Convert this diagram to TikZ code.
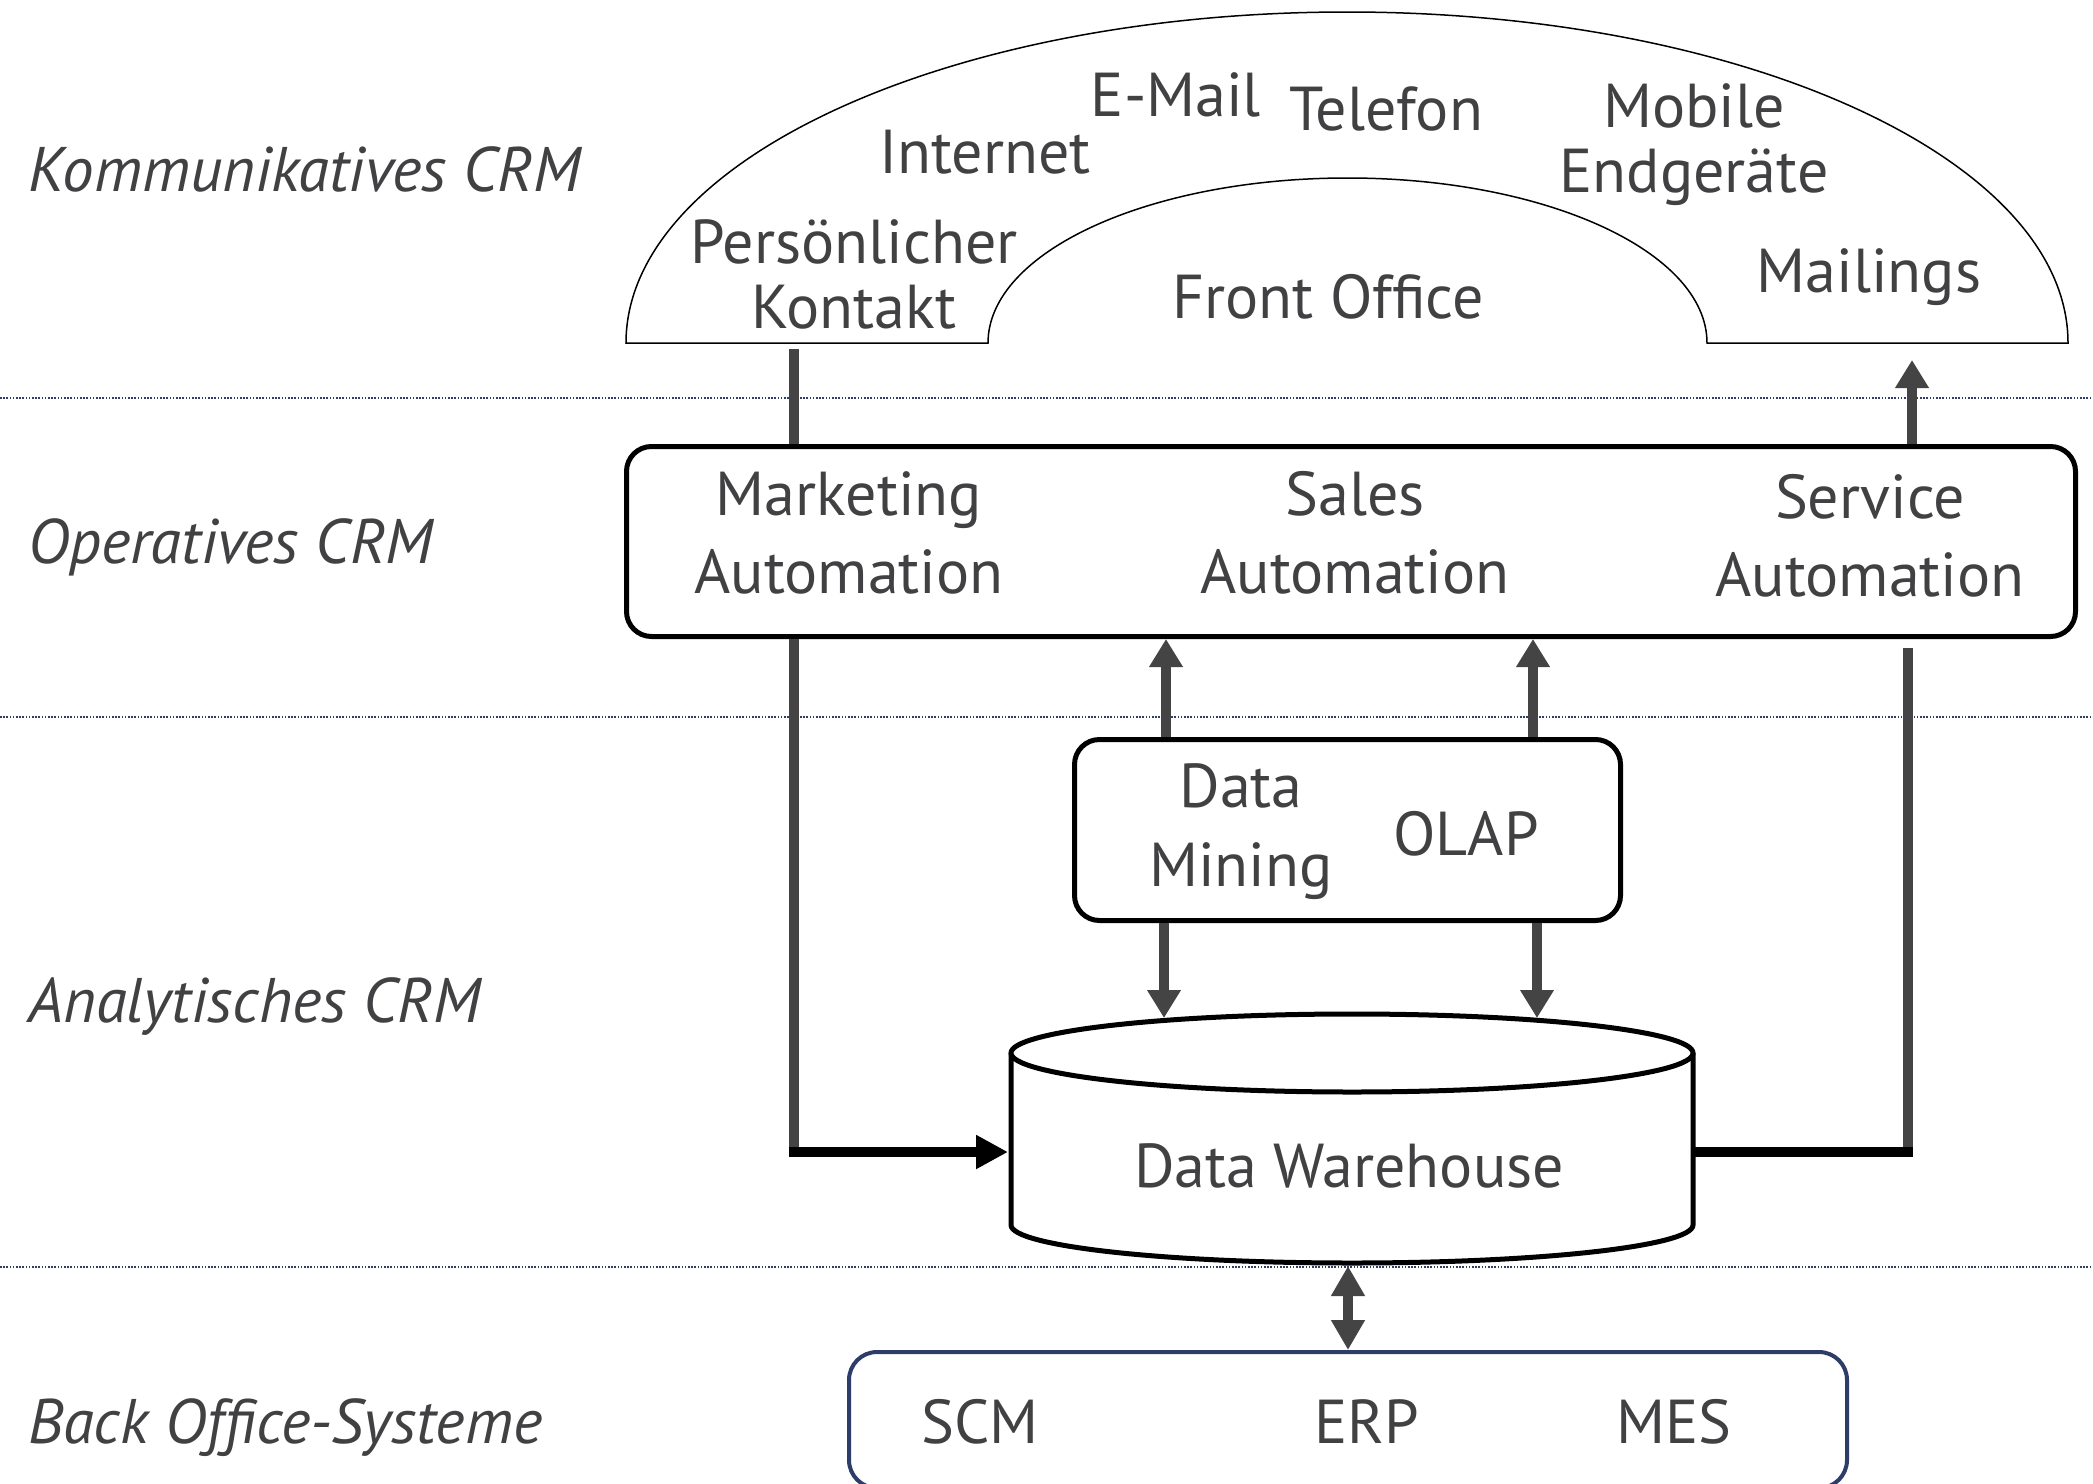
\documentclass[tikz,border=0pt]{standalone}
\usepackage{fontspec}
\setmainfont{PT Sans}
\usetikzlibrary{arrows.meta}
\definecolor{txt}{RGB}{65,64,66}
\definecolor{cgray}{RGB}{68,68,68}
\definecolor{navy}{RGB}{45,60,105}
\newcommand\twoline[2]{\begin{tabular}[t]{@{}c@{}}#1\\#2\end{tabular}}
\begin{document}
\begin{tikzpicture}[x=1pt,y=-1pt,
  lbl/.style={font=\fontsize{62}{78}\selectfont, text=txt, inner sep=0pt, anchor=base},
  lblnarrow/.style={lbl, font=\fontsize{62}{65}\selectfont},
  side/.style={font=\fontsize{63}{78}\selectfont\itshape, text=txt, inner sep=0pt, anchor=base west},
  sepline/.style={draw=navy, line width=2pt, dash pattern=on 1.6pt off 1.6pt},
  conn/.style={draw=cgray, line width=10pt},
  tipg/.style={-{Triangle[length=28pt,width=32pt]}},
  tipgg/.style={{Triangle[length=30pt,width=32pt]}-{Triangle[length=30pt,width=32pt]}},
  blk/.style={draw=black, line width=10pt},
  tipb/.style={-{Triangle[length=32pt,width=32pt]}},
  box/.style={draw=black, line width=5pt, rounded corners=25pt, inner sep=0pt, rectangle},
]
\useasboundingbox (0,0) rectangle (2093,1483);
\fill[white] (0,0) rectangle (2093,1483);

% separators
\draw[sepline] (0,398) -- (2093,398);
\draw[sepline] (0,717) -- (2093,717);
\draw[sepline] (0,1267) -- (2093,1267);

% side labels
\node[side] (kom) at (28,191) {Kommunikatives CRM};
\node[side] (opcrm) at (28,563) {Operatives CRM};
\node[side] (ana) at (28,1022) {Analytisches CRM};
\node[side] (bocrm) at (28,1443) {Back Office-Systeme};

% arch (front office)
\draw[line width=1.5pt, fill=white] (626,343)
  arc[start angle=180, end angle=360, x radius=721, y radius=331]
  -- (2068,343) -- (1707,343)
  arc[start angle=0, end angle=-180, x radius=359.5, y radius=165]
  -- cycle;

\node[lbl] (email) at (1176,116) {E-Mail};
\node[lbl] (telefon) at (1386,130) {Telefon};
\node[lbl] (internet) at (985,173) {Internet};
\node[lblnarrow] (mobile) at (1694,127) {\twoline{Mobile}{Endgeräte}};
\node[lblnarrow] (pk) at (854,263) {\twoline{Persönlicher}{Kontakt}};
\node[lbl] (fo) at (1328,318) {Front Office};
\node[lbl] (mailings) at (1869,292) {Mailings};

% operative box
\node[box, minimum width=1449pt, minimum height=190pt] (ops) at (1351,541.5) {};
\node[lbl] (ma) at (849,515) {\twoline{Marketing}{Automation}};
\node[lbl] (sa) at (1355,515) {\twoline{Sales}{Automation}};
\node[lbl] (sv) at (1870,518) {\twoline{Service}{Automation}};

% analytics box
\node[box, minimum width=546pt, minimum height=181pt] (dm) at (1347.5,830) {};
\node[lbl, font=\fontsize{62}{79}\selectfont] (dmt) at (1241,807) {\twoline{Data}{Mining}};
\node[lbl] (olap) at (1466,855) {OLAP};

% cylinder
\draw[line width=5pt, fill=white] (1011,1053) -- (1011,1225)
  arc[start angle=180, end angle=0, x radius=341, y radius=38]
  -- (1693,1053);
\draw[line width=5pt, fill=white] (1352,1053) ellipse[x radius=341, y radius=39];
\node[lbl] (dwt) at (1349,1187) {Data Warehouse};

% back office box
\node[draw=navy, line width=4pt, rounded corners=28pt, inner sep=0pt, rectangle,
      minimum width=998pt, minimum height=136pt] (bo) at (1348,1420) {};
\node[lbl] (scm) at (980,1443) {SCM};
\node[lbl] (erp) at (1367,1443) {ERP};
\node[lbl] (mes) at (1674,1443) {MES};

% named connector ends
\coordinate (pkfoot) at (794,349);
\coordinate (mlfoot) at (1912,360);
\coordinate (mktc) at (794,1157);
\coordinate (mktb) at (789,1152);
\coordinate (dwl) at (1008,1152);
\coordinate (svtop) at (1908,648);
\coordinate (svc) at (1908,1147);
\coordinate (svb) at (1913,1152);
\coordinate (dwr) at (1693,1152);
\coordinate (up1) at (1166,0);
\coordinate (up2) at (1533,0);
\coordinate (dn1) at (1164,1018);
\coordinate (dn2) at (1537,1018);
\coordinate (dwbot) at (1348,1266);

% connectors
\draw[conn] (pkfoot) -- (pkfoot |- ops.north);
\draw[conn, tipg] (mlfoot |- ops.north) -- (mlfoot);
\draw[conn] (mktc |- ops.south) -- (mktc);
\draw[blk, tipb] (mktb) -- (dwl);
\draw[conn] (svtop) -- (svc);
\draw[blk] (dwr) -- (svb);
\draw[conn, tipg] (up1 |- dm.north) -- (up1 |- ops.south);
\draw[conn, tipg] (up2 |- dm.north) -- (up2 |- ops.south);
\draw[conn, tipg] (dn1 |- dm.south) -- (dn1);
\draw[conn, tipg] (dn2 |- dm.south) -- (dn2);
\draw[conn, tipgg] (dwbot) -- (bo.north);
\end{tikzpicture}
\end{document}
